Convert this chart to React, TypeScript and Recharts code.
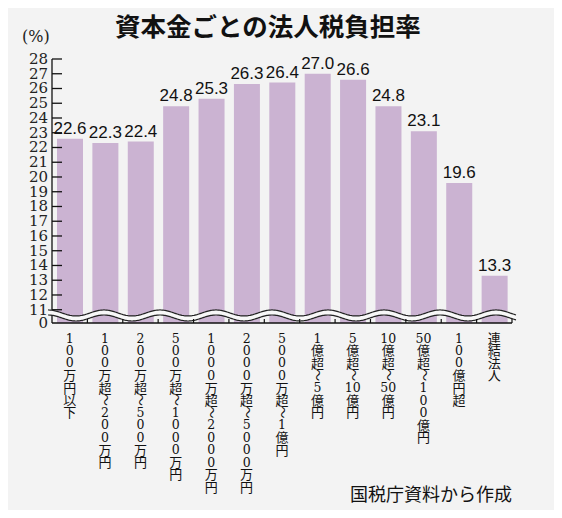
import { Bar, BarChart, LabelList, XAxis, YAxis, usePlotArea } from 'recharts';

const CATEGORIES = [
  '100万円以下',
  '100万超～200万円',
  '200万超～500万円',
  '500万超～1000万円',
  '1000万超～2000万円',
  '2000万超～5000万円',
  '5000万超～1億円',
  '1億超～5億円',
  '5億超～10億円',
  '10億超～50億円',
  '50億超～100億円',
  '100億円超',
  '連結法人',
];
const RATES = [22.6, 22.3, 22.4, 24.8, 25.3, 26.3, 26.4, 27.0, 26.6, 24.8, 23.1, 19.6, 13.3];

// axis is broken: the "0" tick sits just under 11
const Y_FLOOR = 10.1;
const Y_MAX = 28;
const Y_TICKS = [10.1, 11, 12, 13, 14, 15, 16, 17, 18, 19, 20, 21, 22, 23, 24, 25, 26, 27, 28];

const BAR_COLOR = '#cbb3d2';
const BG = '#f3f3f3';
const SERIF = '"DejaVu Serif", serif';
const CJK = '"Noto Sans CJK JP", sans-serif';
const MARGIN = { top: 59, right: 50, bottom: 20, left: 12 };
const ROW = 12.4;

const chartData = CATEGORIES.map((name, i) => ({ name, rate: RATES[i] }));

// digits in runs of two stay on one row (縦中横), everything else stacks
function splitVertical(label: string): string[] {
  const out: string[] = [];
  for (const run of label.match(/\d+|\D/g) ?? []) {
    if (/^\d{2}$/.test(run)) out.push(run);
    else out.push(...run.split(''));
  }
  return out;
}

function CategoryTick({ x, y, payload }: any) {
  const tokens = splitVertical(String(payload.value));
  return (
    <g>
      {tokens.map((t, i) => {
        const mid = y + 15 + i * ROW;
        if (t === '～') {
          return (
            <text key={i} x={x} y={mid + 4} textAnchor="middle" fontSize={12} fontFamily={CJK} fill="#111"
              transform={`rotate(90 ${x} ${mid})`}>
              ～
            </text>
          );
        }
        const digit = /^\d+$/.test(t);
        return (
          <text key={i} x={x} y={digit ? mid + 4.5 : mid + 5} textAnchor="middle"
            fontSize={digit ? 12.5 : 13} fontFamily={digit ? SERIF : CJK} fill="#111">
            {t}
          </text>
        );
      })}
    </g>
  );
}

function RateTick({ x, y, payload }: any) {
  const v = payload.value as number;
  const floor = v < 11;
  return (
    <g>
      {!floor && <line x1={x + 4} x2={x + 14} y1={y} y2={y} stroke="#111" strokeWidth={1.3} />}
      <text x={x} y={y + 5} textAnchor="end" fontSize={15} fontFamily={SERIF} fill="#222">
        {floor ? '0' : String(v)}
      </text>
    </g>
  );
}

function BreakMarks() {
  const plot = usePlotArea();
  if (!plot) return null;
  const { x, y, width, height } = plot;
  const yOf = (v: number) => y + ((Y_MAX - v) / (Y_MAX - Y_FLOOR)) * height;
  const upper = yOf(10.78);
  const lower = yOf(10.44);
  const start = x - 4;
  const end = x + width + 4;
  const wave = (c: number) => {
    const pts: string[] = [];
    for (let px = start; px <= end; px += 1) {
      pts.push(`${px},${(c - 3 * Math.cos((2 * Math.PI * (px - start)) / 56)).toFixed(2)}`);
    }
    return pts;
  };
  const up = wave(upper);
  const lo = wave(lower);
  const band = width / CATEGORIES.length;
  const base = y + height;
  return (
    <g>
      <polygon points={[...up, ...lo.slice().reverse()].join(' ')} fill="#f8f8f8" />
      <polyline points={up.join(' ')} fill="none" stroke="#222" strokeWidth={1.2} />
      <polyline points={lo.join(' ')} fill="none" stroke="#222" strokeWidth={1.2} />
      {CATEGORIES.map((c, i) => (
        <line key={c} x1={x + (i + 1) * band} x2={x + (i + 1) * band} y1={base} y2={base - 4} stroke="#111" strokeWidth={1.2} />
      ))}
    </g>
  );
}

export default function App() {
  return (
    <div style={{ position: 'relative', width: 562, height: 518, margin: -8, background: BG }}>
      <BarChart width={562} height={518} data={chartData} margin={MARGIN}>
        <YAxis type="number" domain={[Y_FLOOR, Y_MAX]} ticks={Y_TICKS} interval={0} width={40}
          tickSize={0} tickMargin={4} tick={<RateTick />} axisLine={{ stroke: '#111', strokeWidth: 1.3 }} />
        <XAxis dataKey="name" interval={0} height={175} tickSize={0} tickMargin={0} tickLine={false}
          tick={<CategoryTick />} axisLine={{ stroke: '#111', strokeWidth: 1.3 }} />
        <Bar dataKey="rate" fill={BAR_COLOR} barSize={26} isAnimationActive={false}>
          <LabelList dataKey="rate" position="top" offset={5} fontSize={17} fill="#111"
            fontFamily='"Liberation Sans", Arial, sans-serif' formatter={(v: any) => Number(v).toFixed(1)} />
        </Bar>
      </BarChart>
      {/* same plot area again, on top of the bars, just for the axis break */}
      <div style={{ position: 'absolute', left: 0, top: 0, pointerEvents: 'none' }}>
        <BarChart width={562} height={518} data={chartData} margin={MARGIN}>
          <YAxis type="number" domain={[Y_FLOOR, Y_MAX]} width={40} tick={false} tickLine={false} axisLine={false} />
          <XAxis dataKey="name" height={175} tick={false} tickLine={false} axisLine={false} />
          <BreakMarks />
        </BarChart>
      </div>
      <svg width={562} height={518} style={{ position: 'absolute', left: 0, top: 0, pointerEvents: 'none' }}>
        <text x={115} y={36} fontSize={25.5} fontWeight={700} fontFamily={CJK} fill="#111">資本金ごとの法人税負担率</text>
        <text x={22} y={42} fontSize={16} fontFamily={SERIF} fill="#222">(%)</text>
        <text x={350} y={501} fontSize={18} fontFamily={CJK} fill="#111">国税庁資料から作成</text>
      </svg>
    </div>
  );
}
